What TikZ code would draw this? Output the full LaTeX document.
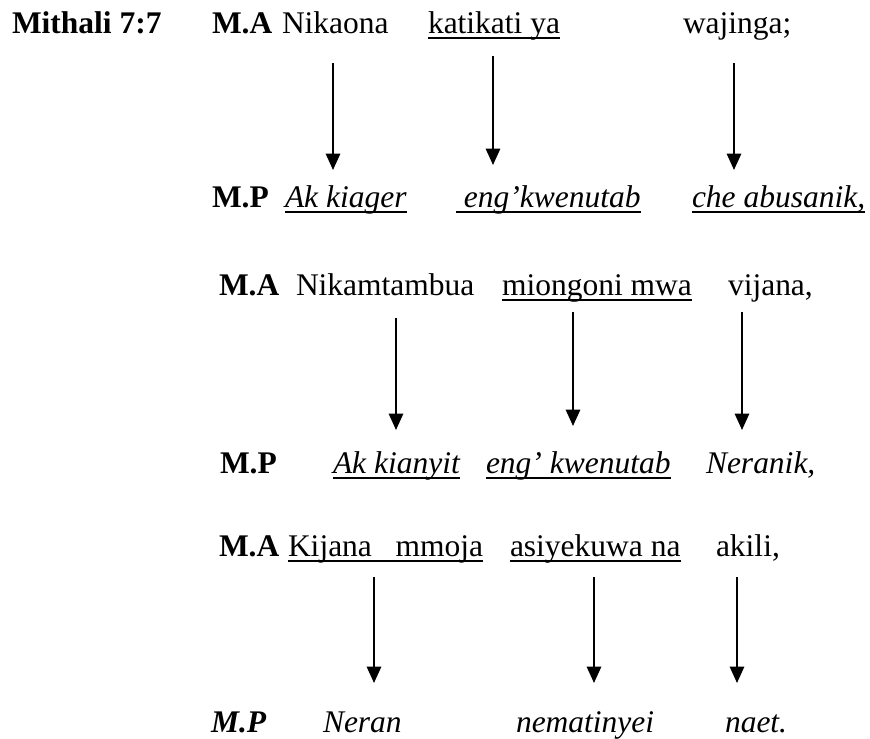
\documentclass[tikz,border=0pt]{standalone}
\usepackage{fontspec}
\setmainfont{Liberation Serif}
\usetikzlibrary{arrows.meta}
\newcommand\wsize{\fontsize{12pt}{14pt}\selectfont}
\tikzset{
  word/.style={anchor=base west,inner sep=0pt,outer sep=0pt,font=\wsize},
  tag/.style={word,font=\wsize\bfseries},
  mp/.style={word,font=\wsize\itshape},
  uline/.style={line width=0.75pt},
  arrow/.style={line width=0.8pt,-{Triangle[length=6.2pt,width=5.4pt]}}
}
\begin{document}
\begin{tikzpicture}[x=0.381pt,y=-0.381pt]%Mithali 7:7
\useasboundingbox (0,0) rectangle (870,738);
			% mstari 1
			\node[tag] (mithali) at (12,33) {Mithali 7:7};
			\node[tag] (ma1) at (212,33) {M.A};
			\node[word] (nikaona) at (282,33) {Nikaona};
			\node[word] (katikati) at (428,33) {katikati ya};
			\node[word] (wajinga) at (683,33) {wajinga;};
			% mstari 2
			\node[tag] (mp1) at (212,207) {M.P};
			\node[mp] (akkiager) at (285,207) {Ak kiager};
			\node[mp] (engkwen) at (456,207) {\ eng’kwenutab};
			\node[mp] (abusanik) at (692,207) {che abusanik,};
			% mstari 3
			\node[tag] (ma2) at (219,295) {M.A};
			\node[word] (nikamtambua) at (296,295) {Nikamtambua};
			\node[word] (miongoni) at (502,295) {miongoni mwa};
			\node[word] (vijana) at (728,295) {vijana,};
			% mstari 4
			\node[tag] (mp2) at (220,473) {M.P};
			\node[mp] (akkianyit) at (333,473) {Ak kianyit};
			\node[mp] (engkwenb) at (486,473) {eng’ kwenutab};
			\node[mp] (neranik) at (706,473) {Neranik,};
			% mstari 5
			\node[tag] (ma3) at (219,556) {M.A};
			\node[word] (kijana) at (288,556) {Kijana\ \ \ mmoja};
			\node[word] (asiyekuwa) at (510,556) {asiyekuwa na};
			\node[word] (akili) at (716,556) {akili,};
			% mstari 6
			\node[tag,font=\wsize\bfseries\itshape] (mp3) at (211,732) {M.P};
			\node[mp] (neran) at (323,732) {Neran};
			\node[mp] (nematinyei) at (516,732) {nematinyei};
			\node[mp] (naet) at (725,732) {naet.};
			% mistari chini ya maneno
			\foreach \n in {katikati,akkiager,engkwen,abusanik,miongoni,akkianyit,engkwenb,kijana,asiyekuwa}
			\draw[uline] ([yshift=-1.9pt]\n.base west) -- ([yshift=-1.9pt]\n.base east);
			% mishale
			\foreach \n/\x/\t/\b in {a/333/63/170, b/493/56/165, c/734/63/170,
			                        d/396/318/430, e/573/312/426, f/742/312/430,
			                        g/374/577/683, h/594/577/683, i/737/577/683}{
			\coordinate (\n top) at (\x,\t);
			\coordinate (\n tip) at (\x,\b);
			\draw[arrow] (\n top) -- (\n tip);
			}
\end{tikzpicture}
\end{document}
